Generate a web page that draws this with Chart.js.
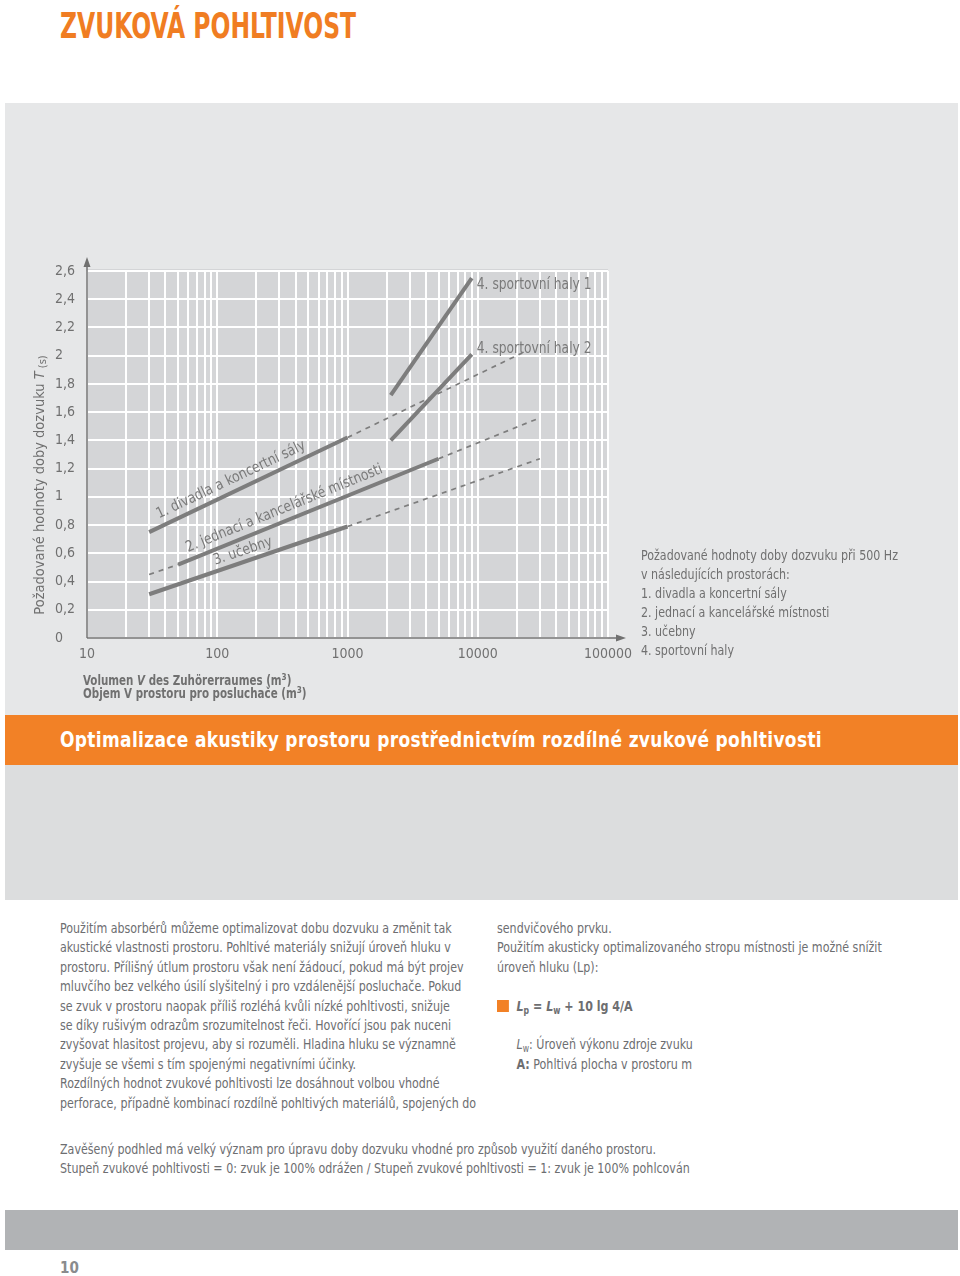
<!DOCTYPE html>
<html lang="cs">
<head>
<meta charset="utf-8">
<title>Zvuková pohltivost</title>
<script src="https://cdn.jsdelivr.net/npm/chart.js@4.4.1/dist/chart.umd.min.js"></script>
<style>
  html, body { margin: 0; padding: 0; background: #fff; }
  body { width: 960px; height: 1276px; position: relative; overflow: hidden;
         font-family: var(--cf), sans-serif; color: #6d6e71; }
  .abs { position: absolute; }
  .narrow { transform: scaleX(0.85); transform-origin: 0 0; }
  #title { left: 60px; top: 5px; font-size: 36px; font-weight: bold; color: #f07d22; white-space: nowrap;
           transform: scaleX(0.725); transform-origin: 0 0; }
  #panel { left: 5px; top: 103px; width: 953px; height: 612px; background: #e6e7e8; }
  #chartBox { left: 5px; top: 103px; width: 953px; height: 612px; }
  #band { left: 5px; top: 715px; width: 953px; height: 50px; background: #f28126; }
  #band div { position: absolute; left: 55px; top: 12px; font-size: 22px; font-weight: bold; color: #fff;
              white-space: nowrap; letter-spacing: 0.4px; transform: scaleX(0.86); transform-origin: 0 0; }
  #grayBand { left: 5px; top: 765px; width: 953px; height: 135px; background: #dcddde; }
  .col { font-size: 14.5px; line-height: 19.4px; white-space: nowrap; }
  #col1 { left: 60px; top: 919px; }
  #col2 { left: 497px; top: 919px; }
  #bottom { left: 60px; top: 1140px; font-size: 14.5px; line-height: 19.4px; white-space: nowrap; }
  #footBand { left: 5px; top: 1210px; width: 953px; height: 40px; background: #b1b3b5; }
  #pageNo { left: 60px; top: 1259px; font-size: 15px; font-weight: bold; color: #8a8b8d; }
  .sq { display: inline-block; width: 14px; height: 12px; background: #f28126; margin-right: 9px; vertical-align: -1px; }
  .fx { font-weight: bold; }
  sub { font-size: 70%; vertical-align: -3px; line-height: 0; }
</style>
</head>
<body>
<div id="title" class="abs">ZVUKOVÁ POHLTIVOST</div>
<div id="panel" class="abs"></div>
<div id="chartBox" class="abs"><canvas id="chart" width="953" height="612"></canvas></div>
<div id="band" class="abs"><div>Optimalizace akustiky prostoru prostřednictvím rozdílné zvukové pohltivosti</div></div>
<div id="grayBand" class="abs"></div>

<div id="col1" class="abs col narrow">
  <div>Použitím absorbérů můžeme optimalizovat dobu dozvuku a změnit tak</div>
  <div>akustické vlastnosti prostoru. Pohltivé materiály snižují úroveň hluku v</div>
  <div>prostoru. Přílišný útlum prostoru však není žádoucí, pokud má být projev</div>
  <div>mluvčího bez velkého úsilí slyšitelný i pro vzdálenější posluchače. Pokud</div>
  <div>se zvuk v prostoru naopak příliš rozléhá kvůli nízké pohltivosti, snižuje</div>
  <div>se díky rušivým odrazům srozumitelnost řeči. Hovořící jsou pak nuceni</div>
  <div>zvyšovat hlasitost projevu, aby si rozuměli. Hladina hluku se významně</div>
  <div>zvyšuje se všemi s tím spojenými negativními účinky.</div>
  <div>Rozdílných hodnot zvukové pohltivosti lze dosáhnout volbou vhodné</div>
  <div>perforace, případně kombinací rozdílně pohltivých materiálů, spojených do</div>
</div>

<div id="col2" class="abs col narrow">
  <div>sendvičového prvku.</div>
  <div>Použitím akusticky optimalizovaného stropu místnosti je možné snížit</div>
  <div>úroveň hluku (Lp):</div>
  <div>&nbsp;</div>
  <div class="fx"><span class="sq"></span><i>L</i><sub>p</sub> = <i>L</i><sub>w</sub> + 10 lg 4/A</div>
  <div>&nbsp;</div>
  <div style="padding-left:23px"><i>L</i><sub>w</sub>: Úroveň výkonu zdroje zvuku</div>
  <div style="padding-left:23px"><b>A:</b> Pohltivá plocha v prostoru m</div>
</div>

<div id="bottom" class="abs narrow">
  <div>Zavěšený podhled má velký význam pro úpravu doby dozvuku vhodné pro způsob využití daného prostoru.</div>
  <div>Stupeň zvukové pohltivosti = 0: zvuk je 100% odrážen / Stupeň zvukové pohltivosti = 1: zvuk je 100% pohlcován</div>
</div>

<div id="footBand" class="abs"></div>
<div id="pageNo" class="abs">10</div>

<script>
// --- data ---
const xTickValues = [10, 100, 1000, 10000, 100000];
const xTickLabels = ['10', '100', '1000', '10000', '100000'];
const gridSteps = [1, 2, 3, 4, 5, 6, 7, 8, 9];
const yTickLabels = ['0', '0,2', '0,4', '0,6', '0,8', '1', '1,2', '1,4', '1,6', '1,8', '2', '2,2', '2,4', '2,6'];

// 1. theatres / concert halls
const concertX = [30, 1000, 22000];
const concertY = [0.75, 1.42, 2.02];
const concertSeg = ['solid', 'dashed'];
// 2. meeting rooms / offices
const officeX = [30, 50, 5000, 30000];
const officeY = [0.45, 0.52, 1.27, 1.56];
const officeSeg = ['dashed', 'solid', 'dashed'];
// 3. classrooms
const classX = [30, 1000, 30000];
const classY = [0.31, 0.79, 1.27];
const classSeg = ['solid', 'dashed'];
// 4. sports halls
const sport1X = [2150, 9000];
const sport1Y = [1.72, 2.55];
const sport2X = [2150, 9000];
const sport2Y = [1.40, 2.01];

const legendLines = [
  'Požadované hodnoty doby dozvuku při 500 Hz',
  'v následujících prostorách:',
  '1. divadla a koncertní sály',
  '2. jednací a kancelářské místnosti',
  '3. učebny',
  '4. sportovní haly'
];

// pick a condensed face that is installed
function pickFont(list) {
  const c = document.createElement('canvas').getContext('2d');
  const probe = 'Použitím absorbérů 0123456789';
  c.font = '20px monospace';
  const base = c.measureText(probe).width;
  for (const f of list) {
    c.font = `20px '${f}', monospace`;
    if (Math.abs(c.measureText(probe).width - base) > 0.5) return f;
  }
  return 'sans-serif';
}
const CF = pickFont(['Liberation Sans Narrow', 'DejaVu Sans Condensed', 'Roboto']);
document.documentElement.style.setProperty('--cf', `'${CF}'`);

const GREY = '#707070';
const LINE = '#7d7d7d';

const pts = (xs, ys) => xs.map((x, i) => ({ x, y: ys[i] }));

function lineSet(label, xs, ys, seg) {
  return {
    label,
    data: pts(xs, ys),
    borderColor: LINE,
    borderWidth: 4,
    pointRadius: 0,
    tension: 0,
    segment: {
      borderDash: ctx => seg[ctx.p0DataIndex] === 'dashed' ? [5, 5] : undefined,
      borderWidth: ctx => seg[ctx.p0DataIndex] === 'dashed' ? 1.7 : 4
    }
  };
}

// horizontally squeezed text, the face is wider than the original one
function squeeze(ctx, s, x, y, sx) {
  ctx.save();
  ctx.translate(x, y);
  ctx.scale(sx, 1);
  ctx.fillText(s, 0, 0);
  ctx.restore();
  return ctx.measureText(s).width * sx;
}

// rotated labels along the lines: dataset, segment, start x, gap above line
const alongLabels = [
  { text: '1. divadla a koncertní sály', ds: 0, seg: 0, atX: 38, gap: 8 },
  { text: '2. jednací a kancelářské místnosti', ds: 1, seg: 1, atX: 63, gap: 8 },
  { text: '3. učebny', ds: 2, seg: 0, atX: 100, gap: 6.5 }
];
const flatLabels = [
  { text: '4. sportovní haly 1', x: 9000, y: 2.50 },
  { text: '4. sportovní haly 2', x: 9000, y: 2.05 }
];

const decor = {
  id: 'decor',
  beforeDraw(chart) {
    const { ctx, chartArea: a } = chart;
    ctx.save();
    ctx.fillStyle = '#d4d5d7';
    ctx.fillRect(a.left, a.top - 2, a.right - a.left, a.bottom - a.top + 2);
    ctx.restore();
  },
  afterDatasetsDraw(chart) {
    const { ctx, chartArea: a, scales: { x, y } } = chart;
    ctx.save();
    // axes with arrows
    ctx.strokeStyle = GREY;
    ctx.fillStyle = GREY;
    ctx.lineWidth = 1.5;
    ctx.beginPath();
    ctx.moveTo(a.left, a.bottom);
    ctx.lineTo(a.right + 12, a.bottom);
    ctx.moveTo(a.left, a.bottom);
    ctx.lineTo(a.left, a.top - 8);
    ctx.stroke();
    ctx.beginPath();
    ctx.moveTo(a.right + 18, a.bottom);
    ctx.lineTo(a.right + 8, a.bottom - 3.5);
    ctx.lineTo(a.right + 8, a.bottom + 3.5);
    ctx.closePath();
    ctx.moveTo(a.left, a.top - 14);
    ctx.lineTo(a.left - 3.5, a.top - 4);
    ctx.lineTo(a.left + 3.5, a.top - 4);
    ctx.closePath();
    ctx.fill();

    // labels along lines
    ctx.fillStyle = '#7a7a7a';
    ctx.font = `15px '${CF}'`;
    ctx.textBaseline = 'alphabetic';
    ctx.textAlign = 'left';
    alongLabels.forEach(l => {
      const d = chart.data.datasets[l.ds].data;
      const p0 = d[l.seg], p1 = d[l.seg + 1];
      const x0 = x.getPixelForValue(p0.x), y0 = y.getPixelForValue(p0.y);
      const x1 = x.getPixelForValue(p1.x), y1 = y.getPixelForValue(p1.y);
      const ang = Math.atan2(y1 - y0, x1 - x0);
      const px = x.getPixelForValue(l.atX);
      const py = y0 + (px - x0) * (y1 - y0) / (x1 - x0);
      ctx.save();
      ctx.translate(px, py);
      ctx.rotate(ang);
      squeeze(ctx, l.text, 0, -l.gap, 0.92);
      ctx.restore();
    });
    ctx.textBaseline = 'middle';
    flatLabels.forEach(l => {
      squeeze(ctx, l.text, x.getPixelForValue(l.x) + 5, y.getPixelForValue(l.y), 0.91);
    });

    // y axis title
    ctx.fillStyle = GREY;
    ctx.save();
    ctx.translate(35, 382);
    ctx.rotate(-Math.PI / 2);
    ctx.textBaseline = 'middle';
    const t1 = 'Požadované hodnoty doby dozvuku ';
    ctx.font = `14.5px '${CF}'`;
    const w1 = ctx.measureText(t1).width;
    ctx.font = `italic 14.5px '${CF}'`;
    const w2 = ctx.measureText('T').width;
    ctx.font = `11px '${CF}'`;
    const w3 = ctx.measureText(' (s)').width;
    let sx = -(w1 + w2 + w3) / 2;
    ctx.font = `14.5px '${CF}'`;
    ctx.fillText(t1, sx, 0);
    ctx.font = `italic 14.5px '${CF}'`;
    ctx.fillText('T', sx + w1, 0);
    ctx.font = `11px '${CF}'`;
    ctx.fillText(' (s)', sx + w1 + w2, 3);
    ctx.restore();

    // x axis title (two lines, bold)
    const drawTitle = (parts, bx, by) => {
      let cx = bx;
      parts.forEach(([txt, style, dy]) => {
        ctx.font = style;
        cx += squeeze(ctx, txt, cx, by + dy, 0.85);
      });
    };
    ctx.textBaseline = 'alphabetic';
    const B = `bold 13.5px '${CF}'`, BI = `italic bold 13.5px '${CF}'`, SUP = `bold 9.5px '${CF}'`;
    drawTitle([['Volumen ', B, 0], ['V', BI, 0], [' des Zuhörerraumes (m', B, 0], ['3', SUP, -5], [')', B, 0]], 78, 582);
    drawTitle([['Objem V prostoru pro posluchače (m', B, 0], ['3', SUP, -5], [')', B, 0]], 78, 595);

    // legend text block on the right
    ctx.font = `14px '${CF}'`;
    legendLines.forEach((s, i) => squeeze(ctx, s, 636, 457 + i * 19, 0.88));
    ctx.restore();
  }
};

new Chart(document.getElementById('chart'), {
  type: 'line',
  data: {
    datasets: [
      lineSet('1. divadla a koncertní sály', concertX, concertY, concertSeg),
      lineSet('2. jednací a kancelářské místnosti', officeX, officeY, officeSeg),
      lineSet('3. učebny', classX, classY, classSeg),
      lineSet('4. sportovní haly 1', sport1X, sport1Y, ['solid']),
      lineSet('4. sportovní haly 2', sport2X, sport2Y, ['solid'])
    ]
  },
  options: {
    responsive: false,
    animation: false,
    layout: { padding: { left: 50, top: 168, right: 350, bottom: 0 } },
    plugins: { legend: { display: false }, tooltip: { enabled: false } },
    scales: {
      x: {
        type: 'logarithmic',
        min: 10,
        max: 100000,
        afterBuildTicks: s => {
          const vals = [];
          xTickValues.slice(0, -1).forEach(d => gridSteps.forEach(m => vals.push(d * m)));
          vals.push(xTickValues[xTickValues.length - 1]);
          s.ticks = vals.map(v => ({ value: v }));
        },
        afterFit: s => { s.height = 77; },
        grid: { color: '#ffffff', lineWidth: 2, drawTicks: false },
        border: { display: false },
        ticks: {
          autoSkip: false,
          maxRotation: 0,
          padding: 8,
          color: GREY,
          font: { family: CF, size: 14 },
          callback: v => {
            const i = xTickValues.indexOf(v);
            return i >= 0 ? xTickLabels[i] : '';
          }
        }
      },
      y: {
        min: 0,
        max: 2.6,
        afterFit: s => { s.width = 32; },
        grid: { color: '#ffffff', lineWidth: 2, drawTicks: false },
        border: { display: false },
        ticks: {
          stepSize: 0.2,
          crossAlign: 'far',
          color: GREY,
          font: { family: CF, size: 14 },
          callback: (v, i) => yTickLabels[i]
        }
      }
    }
  },
  plugins: [decor]
});
</script>
</body>
</html>
